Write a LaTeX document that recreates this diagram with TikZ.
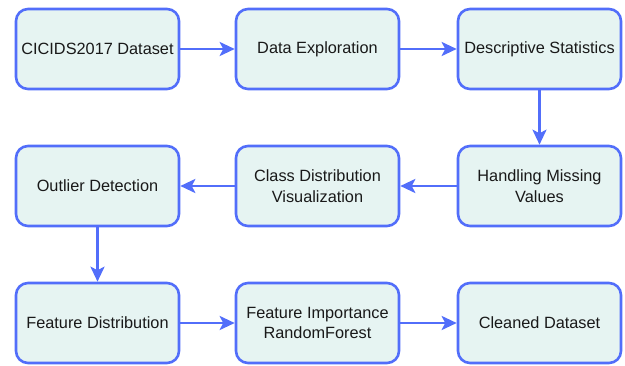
\documentclass[tikz,border=0pt]{standalone}
\usepackage{fontspec}
\setmainfont{Liberation Sans}
\usetikzlibrary{arrows.meta}
\definecolor{boxblue}{RGB}{82,110,250}
\definecolor{boxfill}{RGB}{230,244,242}
\begin{document}
\begin{tikzpicture}[x=1pt,y=1pt,
  stepbox/.style={draw=boxblue, fill=boxfill, line width=2.6pt, rounded corners=12pt,
    minimum width=163pt, minimum height=80pt, align=center, font=\fontsize{16.3}{20.5}\selectfont, text=black!90},
  conn/.style={draw=boxblue, line width=2.6pt, -{Stealth[length=15pt,width=14pt,inset=3.5pt]}}]
\useasboundingbox (0,0) rectangle (625,365);
\node[stepbox] (a) at (97.5,316) {CICIDS2017 Dataset};
\node[stepbox] (b) at (317.5,316) {Data Exploration};
\node[stepbox] (c) at (539.5,316) {Descriptive Statistics};
\node[stepbox] (d) at (539.5,179) {Handling Missing\\Values};
\node[stepbox] (e) at (317.5,179) {Class Distribution\\Visualization};
\node[stepbox] (f) at (97.5,179) {Outlier Detection};
\node[stepbox] (g) at (97.5,42) {Feature Distribution};
\node[stepbox] (h) at (317.5,42) {Feature Importance\\RandomForest};
\node[stepbox] (i) at (539.5,42) {Cleaned Dataset};
\draw[conn] (a) -- (b);
\draw[conn] (b) -- (c);
\draw[conn] (c) -- (d);
\draw[conn] (d) -- (e);
\draw[conn] (e) -- (f);
\draw[conn] (f) -- (g);
\draw[conn] (g) -- (h);
\draw[conn] (h) -- (i);
\end{tikzpicture}
\end{document}
